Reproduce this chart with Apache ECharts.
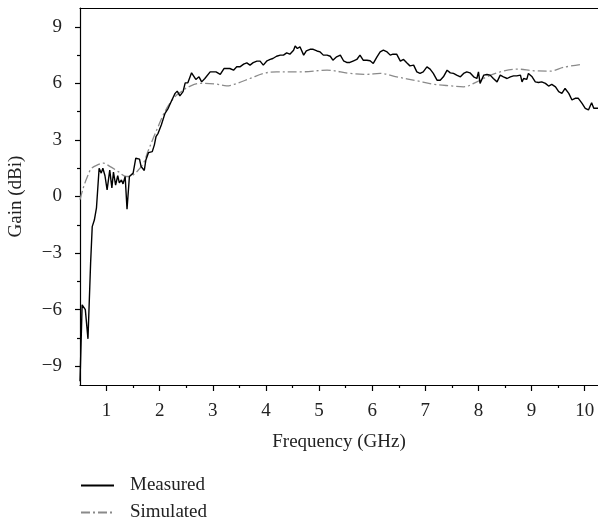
<!DOCTYPE html>
<html>
<head>
<meta charset="utf-8">
<script src="https://cdn.jsdelivr.net/npm/echarts@6/dist/echarts.min.js"></script>
<style>
  html, body { margin: 0; padding: 0; background: #fff; }
  #chart { width: 598px; height: 522px; }
</style>
</head>
<body>
<div id="chart"></div>
<script>
// Measured antenna gain vs frequency
const measuredFreq = [
  0.50, 0.54, 0.60, 0.65, 0.70, 0.73, 0.77, 0.81, 0.86, 0.90, 0.93, 0.97, 1.01, 1.06, 1.10, 1.13,
  1.17, 1.21, 1.24, 1.28, 1.31, 1.35, 1.385, 1.43, 1.46, 1.50, 1.55, 1.62, 1.65, 1.71, 1.74, 1.79,
  1.86, 1.90, 1.93, 1.97, 2.03, 2.10, 2.16, 2.23, 2.29, 2.33, 2.38, 2.44, 2.48, 2.53, 2.60, 2.63,
  2.68, 2.74, 2.79, 2.85, 2.95, 3.06, 3.14, 3.21, 3.32, 3.39, 3.45, 3.51, 3.58, 3.64, 3.70, 3.76,
  3.83, 3.89, 3.95, 4.02, 4.08, 4.13, 4.20, 4.27, 4.33, 4.39, 4.45, 4.52, 4.55, 4.59, 4.64, 4.71,
  4.76, 4.83, 4.89, 4.96, 5.02, 5.08, 5.15, 5.21, 5.26, 5.33, 5.40, 5.46, 5.52, 5.58, 5.65, 5.71,
  5.77, 5.83, 5.90, 5.96, 6.02, 6.09, 6.15, 6.21, 6.28, 6.34, 6.39, 6.46, 6.53, 6.59, 6.65, 6.71,
  6.78, 6.84, 6.90, 6.96, 7.03, 7.09, 7.15, 7.22, 7.28, 7.34, 7.41, 7.47, 7.53, 7.59, 7.66, 7.72,
  7.78, 7.84, 7.91, 7.97, 8.00, 8.03, 8.10, 8.16, 8.22, 8.28, 8.35, 8.41, 8.47, 8.54, 8.60, 8.66,
  8.72, 8.79, 8.82, 8.85, 8.88, 8.91, 8.94, 9.01, 9.07, 9.13, 9.19, 9.26, 9.32, 9.38, 9.45, 9.51,
  9.57, 9.63, 9.70, 9.76, 9.79, 9.82, 9.88, 9.95, 10.01, 10.07, 10.13, 10.17, 10.25
];
const measuredGain = [
  -9.8, -5.75, -6.0, -7.55, -3.5, -1.6, -1.25, -0.6, 1.5, 1.24, 1.5, 1.1, 0.35, 1.4, 0.46, 1.3,
  0.6, 1.1, 0.72, 0.88, 0.67, 1.06, -0.67, 1.06, 1.15, 1.24, 2.03, 1.98, 1.59, 1.38, 1.94, 2.33,
  2.38, 2.74, 3.17, 3.35, 3.79, 4.41, 4.68, 5.12, 5.47, 5.59, 5.34, 5.56, 6.03, 6.03, 6.56, 6.56,
  6.21, 6.35, 6.08, 6.26, 6.61, 6.61, 6.48, 6.79, 6.79, 6.7, 6.88, 6.88, 7.02, 7.09, 6.97, 7.1,
  7.18, 7.18, 6.97, 7.2, 7.27, 7.32, 7.44, 7.5, 7.5, 7.62, 7.55, 7.76, 7.99, 7.85, 7.94, 7.5,
  7.72, 7.81, 7.81, 7.72, 7.67, 7.5, 7.5, 7.44, 7.23, 7.41, 7.5, 7.2, 7.11, 7.11, 7.2, 7.27,
  7.5, 7.23, 7.23, 7.2, 7.06, 7.41, 7.67, 7.76, 7.67, 7.5, 7.55, 7.55, 7.18, 7.27, 7.09, 6.93,
  6.97, 6.61, 6.53, 6.61, 6.88, 6.76, 6.53, 6.17, 6.17, 6.35, 6.7, 6.56, 6.53, 6.44, 6.35, 6.53,
  6.61, 6.56, 6.35, 6.26, 6.61, 6.0, 6.44, 6.47, 6.44, 6.26, 6.08, 6.44, 6.35, 6.26, 6.35, 6.4,
  6.4, 6.44, 6.08, 6.26, 6.35, 6.21, 6.53, 6.35, 6.08, 6.05, 6.08, 6.0, 5.86, 5.95, 5.82, 5.56,
  5.47, 5.73, 5.47, 5.12, 5.03, 5.21, 5.21, 4.94, 4.68, 4.59, 4.97, 4.68, 4.68
];

// Simulated antenna gain vs frequency
const simulatedFreq = [
  0.50, 0.56, 0.64, 0.72, 0.85, 0.94, 1.06, 1.22, 1.37, 1.47, 1.60, 1.70, 1.78, 1.88, 1.97, 2.07,
  2.19, 2.32, 2.45, 2.54, 2.76, 3.07, 3.26, 3.40, 3.70, 3.95, 4.20, 4.64, 5.15, 5.58, 5.90, 6.15,
  6.46, 6.84, 7.15, 7.47, 7.72, 7.97, 8.16, 8.41, 8.72, 9.04, 9.35, 9.60, 9.92
];
const simulatedGain = [
  -0.17, 0.44, 1.06, 1.5, 1.7, 1.77, 1.6, 1.32, 1.06, 1.1, 1.41, 1.8, 2.4, 3.1, 3.7, 4.35,
  4.94, 5.38, 5.65, 5.82, 6.0, 5.96, 5.87, 5.95, 6.26, 6.53, 6.61, 6.61, 6.7, 6.53, 6.48, 6.53,
  6.35, 6.14, 5.96, 5.87, 5.82, 6.08, 6.35, 6.61, 6.76, 6.67, 6.65, 6.85, 7.0
];

// Axis ticks and labels
const xLabelValues = [1, 2, 3, 4, 5, 6, 7, 8, 9, 10];
const xMinorValues = [1.5, 2.5, 3.5, 4.5, 5.5, 6.5, 7.5, 8.5, 9.5];
const yLabelValues = [-9, -6, -3, 0, 3, 6, 9];
const yMinorValues = [-7.5, -4.5, -1.5, 1.5, 4.5, 7.5];
const seriesNames = ['Measured', 'Simulated'];

const FONT = '"Liberation Serif", "DejaVu Serif", serif';
const TEXT = '#222';
const X_MIN = 0.5, X_MAX = 10.25, Y_MIN = -10, Y_MAX = 10;

const zip = (xs, ys) => xs.map((x, i) => [x, ys[i]]);
const minus = v => String(v).replace('-', '\u2212');

const chart = echarts.init(document.getElementById('chart'), null, { renderer: 'canvas' });

const axisLineStyle = { color: '#000', width: 1.2 };

// One legend block per series, stacked below the plot
const legendFor = (name, top) => ({
  orient: 'vertical',
  left: 80,
  top: top,
  padding: 0,
  itemWidth: 33,
  itemHeight: 10,
  data: [name],
  itemStyle: { opacity: 0 },
  textStyle: { fontFamily: FONT, fontSize: 19, color: TEXT, padding: [0, 0, 0, 11] }
});

chart.setOption({
  backgroundColor: '#fff',
  animation: false,
  grid: { left: 80, top: 8, right: 0, bottom: 137, containLabel: false, outerBoundsMode: 'none' },
  legend: [legendFor(seriesNames[0], 476), legendFor(seriesNames[1], 503)],
  xAxis: [
    {
      type: 'value', min: X_MIN, max: X_MAX, position: 'bottom',
      name: 'Frequency (GHz)', nameLocation: 'middle', nameGap: 48,
      nameTextStyle: { fontFamily: FONT, fontSize: 19, color: TEXT },
      axisLine: { show: true, onZero: false, lineStyle: axisLineStyle },
      axisTick: { show: true, length: 6, inside: false, customValues: xLabelValues, lineStyle: axisLineStyle },
      axisLabel: { customValues: xLabelValues, margin: 17, fontFamily: FONT, fontSize: 19, color: TEXT },
      splitLine: { show: false }
    },
    {
      type: 'value', min: X_MIN, max: X_MAX, position: 'bottom',
      axisLine: { show: false, onZero: false },
      axisTick: { show: true, length: 3, customValues: xMinorValues, lineStyle: axisLineStyle },
      axisLabel: { show: false },
      splitLine: { show: false }
    },
    {
      type: 'value', min: X_MIN, max: X_MAX, position: 'top',
      axisLine: { show: true, onZero: false, lineStyle: axisLineStyle },
      axisTick: { show: false }, axisLabel: { show: false }, splitLine: { show: false }
    }
  ],
  yAxis: [
    {
      type: 'value', min: Y_MIN, max: Y_MAX, position: 'left',
      name: 'Gain (dBi)', nameLocation: 'middle', nameGap: 54,
      nameTextStyle: { fontFamily: FONT, fontSize: 19, color: TEXT },
      axisLine: { show: true, onZero: false, lineStyle: axisLineStyle },
      axisTick: { show: true, length: 5, customValues: yLabelValues, lineStyle: axisLineStyle },
      axisLabel: { customValues: yLabelValues, margin: 18, fontFamily: FONT, fontSize: 19, color: TEXT, formatter: minus },
      splitLine: { show: false }
    },
    {
      type: 'value', min: Y_MIN, max: Y_MAX, position: 'left',
      axisLine: { show: false, onZero: false },
      axisTick: { show: true, length: 3, customValues: yMinorValues, lineStyle: axisLineStyle },
      axisLabel: { show: false },
      splitLine: { show: false }
    }
  ],
  series: [
    {
      name: seriesNames[0], type: 'line', xAxisIndex: 0, yAxisIndex: 0,
      data: zip(measuredFreq, measuredGain),
      showSymbol: false, symbol: 'none',
      lineStyle: { color: '#000', width: 1.4 },
      itemStyle: { color: '#000' },
      z: 3
    },
    {
      name: seriesNames[1], type: 'line', xAxisIndex: 0, yAxisIndex: 0,
      data: zip(simulatedFreq, simulatedGain),
      showSymbol: false, symbol: 'none', smooth: 0.35,
      lineStyle: { color: '#8a8a8a', width: 1.3, type: [9, 3, 2, 3] },
      itemStyle: { color: '#8a8a8a' },
      z: 2
    }
  ]
});
</script>
</body>
</html>
